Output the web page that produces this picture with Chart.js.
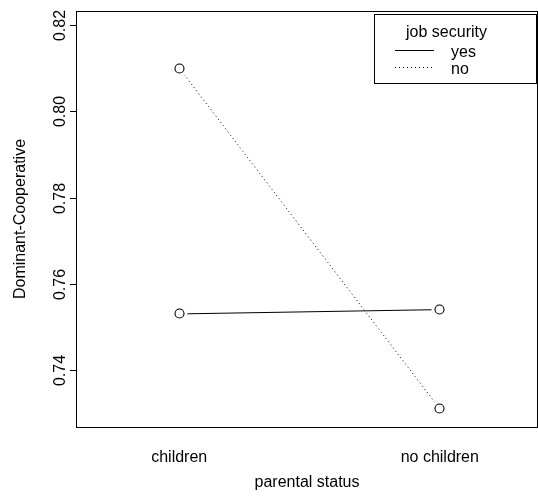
<!DOCTYPE html>
<html><head><meta charset="utf-8">
<script src="https://cdn.jsdelivr.net/npm/chart.js@4/dist/chart.umd.min.js"></script>
<style>html,body{margin:0;padding:0;background:#fff}canvas{display:block}</style>
</head><body>
<canvas id="c" width="538" height="503"></canvas>
<script>
// ---- data ----
const categories = ["children", "no children"];
const categoryPositions = [1, 2];
const seriesNames = ["yes", "no"];
const yesValues = [0.753, 0.754];
const noValues = [0.810, 0.731];
const yTicks = [0.74, 0.76, 0.78, 0.80, 0.82];
const yTickLabels = ["0.74", "0.76", "0.78", "0.80", "0.82"];
const legendTitle = "job security";
const xTitle = "parental status";
const yTitle = "Dominant-Cooperative";

const FONT = '16px "Liberation Sans", Arial, Helvetica, sans-serif';

// open circle marker with white halo (R type="b" gap)
function makeMarker() {
  const c = document.createElement('canvas');
  c.width = 19; c.height = 19;
  const g = c.getContext('2d');
  g.fillStyle = '#fff';
  g.beginPath(); g.arc(9.5, 9.5, 8, 0, Math.PI * 2); g.fill();
  g.strokeStyle = '#000'; g.lineWidth = 1.1;
  g.beginPath(); g.arc(9.5, 9.5, 4.5, 0, Math.PI * 2); g.stroke();
  return c;
}
const marker = makeMarker();

function toPoints(vals) { return vals.map((v, i) => ({ x: categoryPositions[i], y: v })); }

const crisp = {
  id: 'crisp',
  beforeDatasetsDraw(chart) { chart.ctx.imageSmoothingEnabled = false; },
  afterDatasetsDraw(chart) { chart.ctx.imageSmoothingEnabled = true; }
};

const rStyle = {
  id: 'rStyle',
  afterDraw(chart) {
    const ctx = chart.ctx;
    const a = chart.chartArea;
    const ys = chart.scales.y, xs = chart.scales.x;
    ctx.save();
    ctx.strokeStyle = '#000'; ctx.fillStyle = '#000'; ctx.lineWidth = 1;
    // box
    const L0 = Math.round(a.left), R0 = Math.round(a.right), T0 = Math.round(a.top), B0 = Math.round(a.bottom);
    ctx.strokeRect(L0 + 0.5, T0 + 0.5, R0 - L0 - 1, B0 - T0);
    ctx.font = FONT;
    // y ticks
    yTicks.forEach((v, i) => {
      const py = Math.round(ys.getPixelForValue(v)) + 0.5;
      ctx.beginPath(); ctx.moveTo(L0 - 6, py); ctx.lineTo(L0 + 0.5, py); ctx.stroke();
      ctx.save(); ctx.translate(L0 - 11, py); ctx.rotate(-Math.PI / 2);
      ctx.textAlign = 'center'; ctx.textBaseline = 'alphabetic';
      ctx.fillText(yTickLabels[i], 0, 0); ctx.restore();
    });
    // x labels
    ctx.textAlign = 'center'; ctx.textBaseline = 'alphabetic';
    categories.forEach((c, i) => {
      ctx.fillText(c, xs.getPixelForValue(categoryPositions[i]), 462);
    });
    ctx.fillText(xTitle, (a.left + a.right) / 2, 487);
    // y title
    ctx.save(); ctx.translate(25, (a.top + a.bottom) / 2); ctx.rotate(-Math.PI / 2);
    ctx.fillText(yTitle, 0, 0); ctx.restore();
    // legend
    const L = 374.5, T = 14.5, W = 162, H = 69;
    ctx.strokeRect(L, T, W, H);
    ctx.textAlign = 'center';
    ctx.fillText(legendTitle, 446.5, 37);
    const rowsY = [50.5, 67.5];
    const textY = [56.5, 74];
    chart.data.datasets.forEach((ds, i) => {
      ctx.save();
      ctx.setLineDash(ds.borderDash || []);
      ctx.beginPath(); ctx.moveTo(395, rowsY[i]); ctx.lineTo(434, rowsY[i]); ctx.stroke();
      ctx.restore();
      ctx.textAlign = 'left';
      ctx.fillText(ds.label, 451, textY[i]);
    });
    ctx.restore();
  }
};

new Chart(document.getElementById('c'), {
  type: 'line',
  data: {
    datasets: [
      { label: seriesNames[0], data: toPoints(yesValues), borderColor: '#000', borderWidth: 1,
        borderDash: [], pointStyle: marker, pointRadius: 9, pointHoverRadius: 9, tension: 0, fill: false },
      { label: seriesNames[1], data: toPoints(noValues), borderColor: '#000', borderWidth: 1,
        borderDash: [1, 3], pointStyle: marker, pointRadius: 9, pointHoverRadius: 9, tension: 0, fill: false }
    ]
  },
  options: {
    responsive: false,
    animation: false,
    layout: { autoPadding: false, padding: { left: 76, top: 11, right: 0, bottom: 76 } },
    scales: {
      x: { type: 'linear', display: false, min: 0.6038, max: 2.377 },
      y: { type: 'linear', display: false, min: 0.72678, max: 0.82325 }
    },
    plugins: { legend: { display: false }, tooltip: { enabled: false } },
    events: []
  },
  plugins: [crisp, rStyle]
});
</script>
</body></html>
